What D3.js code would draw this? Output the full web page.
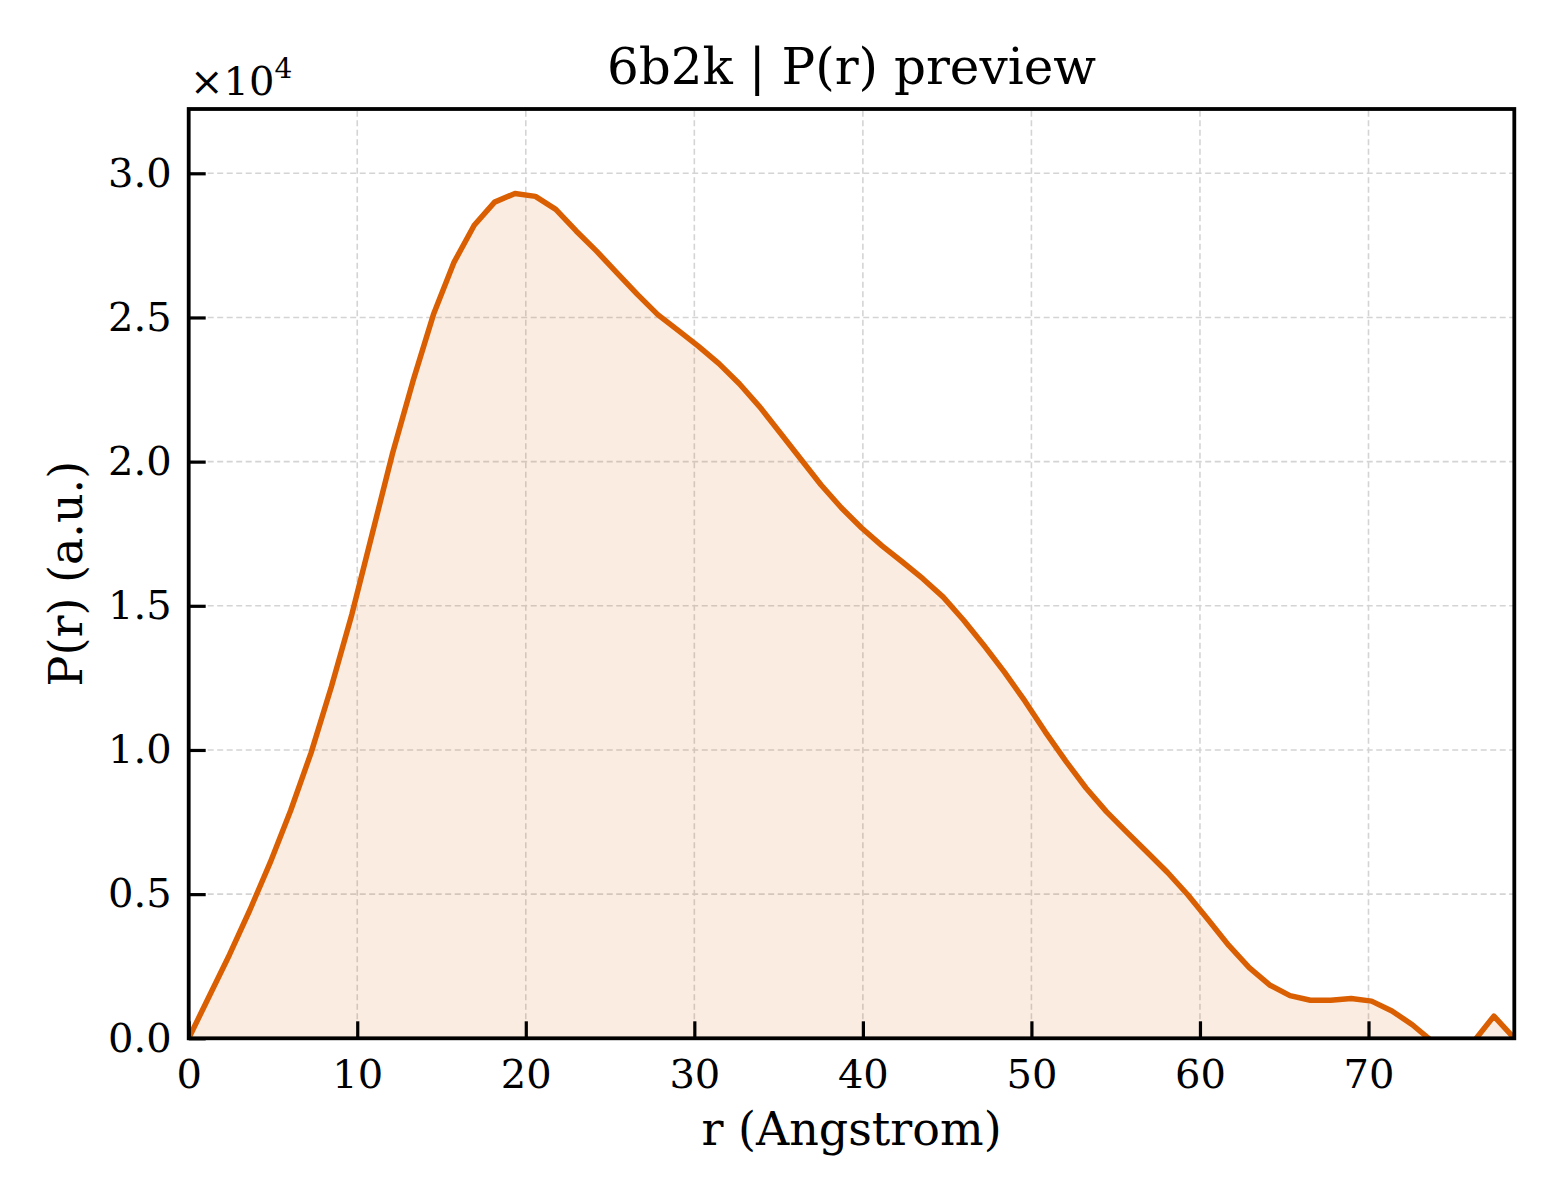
<!DOCTYPE html>
<html>
<head>
<meta charset="utf-8">
<script src="https://cdn.jsdelivr.net/npm/d3@7"></script>
<style>
  body { margin: 0; background: #fff; }
  svg text { font-family: "DejaVu Serif", serif; fill: #000; }
</style>
</head>
<body>
<div id="chart"></div>
<script>
// P(r) preview for 6b2k (units of 1e4)
const rValues = [0, 1.21, 2.42, 3.63, 4.84, 6.05, 7.26, 8.47, 9.68, 10.89,
    12.10, 13.31, 14.52, 15.73, 16.94, 18.15, 19.36, 20.57, 21.78, 22.99,
    24.20, 25.41, 26.62, 27.83, 29.04, 30.25, 31.46, 32.67, 33.88, 35.09,
    36.30, 37.51, 38.72, 39.93, 41.14, 42.35, 43.56, 44.77, 45.98, 47.19,
    48.40, 49.61, 50.82, 52.03, 53.24, 54.45, 55.66, 56.87, 58.08, 59.29,
    60.50, 61.71, 62.92, 64.13, 65.34, 66.55, 67.76, 68.97, 70.18, 71.39,
    72.60, 73.81, 75.02, 76.23, 77.44, 78.65]

const pValues = [0, 0.145, 0.29, 0.445, 0.61, 0.79, 0.99, 1.22, 1.47, 1.75,
    2.03, 2.28, 2.51, 2.69, 2.82, 2.90, 2.93, 2.92, 2.875, 2.80,
    2.73, 2.655, 2.58, 2.51, 2.455, 2.40, 2.34, 2.27, 2.19, 2.10,
    2.01, 1.92, 1.84, 1.77, 1.708, 1.652, 1.594, 1.53, 1.45, 1.362,
    1.27, 1.17, 1.063, 0.962, 0.868, 0.786, 0.715, 0.645, 0.575, 0.497,
    0.41, 0.322, 0.245, 0.185, 0.148, 0.132, 0.132, 0.138, 0.129, 0.095,
    0.047, -0.012, -0.03, -0.012, 0.077, 0]

const xTicks = [0, 10, 20, 30, 40, 50, 60, 70]
const yTicks = [0, 0.5, 1.0, 1.5, 2.0, 2.5, 3.0]

const width = 1560, height = 1200
const margin = { left: 188.7, right: 1560 - 1514.3, top: 109, bottom: 1200 - 1038.3 }
const lineColor = '#d95f02'

const data = rValues.map((r, i) => ({ r: r, p: pValues[i] }))

const svg = d3.select('#chart')
    .append('svg')
    .attr('width', width)
    .attr('height', height)

const x = d3.scaleLinear()
    .domain([0, d3.max(rValues)])
    .range([margin.left, width - margin.right])

const y = d3.scaleLinear()
    .domain([0, d3.max(pValues) * 1.1])
    .range([height - margin.bottom, margin.top])

svg.append('clipPath')
    .attr('id', 'plot-clip')
    .append('rect')
    .attr('x', margin.left)
    .attr('y', margin.top)
    .attr('width', x.range()[1] - x.range()[0])
    .attr('height', y.range()[0] - y.range()[1])

// dashed grid
const grid = svg.append('g')
    .attr('stroke', '#d4d4d4')
    .attr('stroke-width', 1.6)
    .attr('stroke-dasharray', '6,3.5')
grid.selectAll('line.gx')
    .data(xTicks.slice(1))
    .enter()
    .append('line')
    .attr('x1', d => x(d)).attr('x2', d => x(d))
    .attr('y1', y.range()[0]).attr('y2', y.range()[1])
grid.selectAll('line.gy')
    .data(yTicks.slice(1))
    .enter()
    .append('line')
    .attr('y1', d => y(d)).attr('y2', d => y(d))
    .attr('x1', x.range()[0]).attr('x2', x.range()[1])

const plot = svg.append('g').attr('clip-path', 'url(#plot-clip)')

plot.append('path')
    .datum(data)
    .attr('fill', lineColor)
    .attr('fill-opacity', 0.12)
    .attr('d', d3.area().x(d => x(d.r)).y0(y(0)).y1(d => y(d.p)))

plot.append('path')
    .datum(data)
    .attr('fill', 'none')
    .attr('stroke', lineColor)
    .attr('stroke-width', 5.5)
    .attr('stroke-linejoin', 'round')
    .attr('d', d3.line().x(d => x(d.r)).y(d => y(d.p)))

// axes with inward ticks
const xAxis = svg.append('g')
    .attr('transform', `translate(0,${y.range()[0]})`)
    .call(d3.axisBottom(x).tickValues(xTicks).tickSizeInner(-17).tickSizeOuter(0)
        .tickPadding(21).tickFormat(d3.format('d')))
const yAxis = svg.append('g')
    .attr('transform', `translate(${x.range()[0]},0)`)
    .call(d3.axisLeft(y).tickValues(yTicks).tickSizeInner(-17).tickSizeOuter(0)
        .tickPadding(17).tickFormat(d3.format('.1f')))

for (const ax of [xAxis, yAxis]) {
    ax.select('.domain').remove()
    ax.selectAll('.tick line').attr('stroke', '#000').attr('stroke-width', 3.2)
    ax.selectAll('.tick text')
        .attr('font-family', '"DejaVu Serif", serif')
        .attr('font-size', 40)
        .attr('fill', '#000')
}
xAxis.selectAll('.tick text').attr('dy', '0.71em')

// frame
svg.append('rect')
    .attr('x', x.range()[0])
    .attr('y', y.range()[1])
    .attr('width', x.range()[1] - x.range()[0])
    .attr('height', y.range()[0] - y.range()[1])
    .attr('fill', 'none')
    .attr('stroke', '#000')
    .attr('stroke-width', 3.8)

// labels
svg.append('text')
    .attr('x', (x.range()[0] + x.range()[1]) / 2)
    .attr('y', 84)
    .attr('text-anchor', 'middle')
    .attr('font-size', 50)
    .text('6b2k | P(r) preview')

svg.append('text')
    .attr('x', (x.range()[0] + x.range()[1]) / 2)
    .attr('y', 1145)
    .attr('text-anchor', 'middle')
    .attr('font-size', 46)
    .text('r (Angstrom)')

svg.append('text')
    .attr('transform', `translate(82,${(y.range()[0] + y.range()[1]) / 2}) rotate(-90)`)
    .attr('text-anchor', 'middle')
    .attr('font-size', 46)
    .text('P(r) (a.u.)')

const offset = svg.append('text')
    .attr('x', 190)
    .attr('y', 95)
    .attr('font-size', 40)
offset.append('tspan').text('×10')
offset.append('tspan').attr('font-size', 28).attr('dy', -17).text('4')
</script>
</body>
</html>
